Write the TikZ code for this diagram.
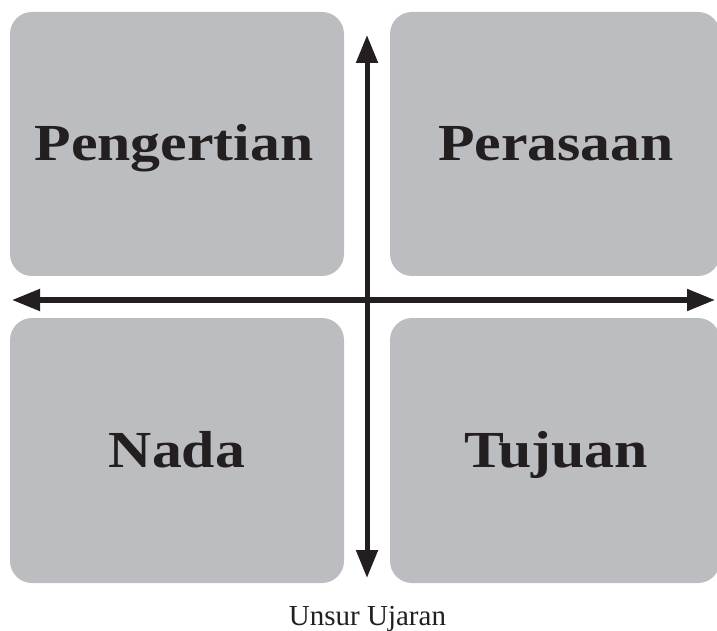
\documentclass[tikz,border=0pt]{standalone}
\usepackage{fontspec}
\setmainfont{Liberation Serif}
\newfontfamily\labfont[FakeStretch=1.15]{Liberation Serif}
\usetikzlibrary{arrows.meta}
\definecolor{boxgray}{HTML}{BCBDC0}
\definecolor{ink}{HTML}{231F20}
\tikzset{
  panel/.style={fill=boxgray, draw=none, rounded corners=22pt, inner sep=0pt},
  lab/.style={anchor=base, text=ink, inner sep=0pt, font=\labfont\bfseries\fontsize{52}{60}\selectfont},
  axis/.style={draw=ink, line width=5pt, {Triangle[length=28pt,width=21pt]}-{Triangle[length=28pt,width=21pt]}},
  captext/.style={anchor=base, text=ink, inner sep=0pt, font=\fontsize{29}{34}\selectfont}
}
\begin{document}
\begin{tikzpicture}[x=1pt,y=1pt]
\useasboundingbox (0,0) rectangle (717,630);
\node[panel, minimum width=334pt, minimum height=264pt] (tl) at (177,486) {};
\node[panel, minimum width=330pt, minimum height=264pt] (tr) at (555,486) {};
\node[panel, minimum width=334pt, minimum height=265pt] (bl) at (177,179.5) {};
\node[panel, minimum width=330pt, minimum height=265pt] (br) at (555,179.5) {};
\node[lab] (t1) at (174,469) {Pengertian};
\node[lab] (t2) at (556,469) {Perasaan};
\node[lab] (t3) at (177,163) {Nada};
\node[lab] (t4) at (556,163) {Tujuan};
\coordinate (vtop) at (367,595);
\coordinate (vbot) at (367,52);
\coordinate (hl) at (12,330);
\coordinate (hr) at (715,330);
\draw[axis] (hl) -- (hr);
\draw[axis] (vbot) -- (vtop);
\node[captext] (caption) at (367.5,5) {Unsur Ujaran};
\end{tikzpicture}
\end{document}
